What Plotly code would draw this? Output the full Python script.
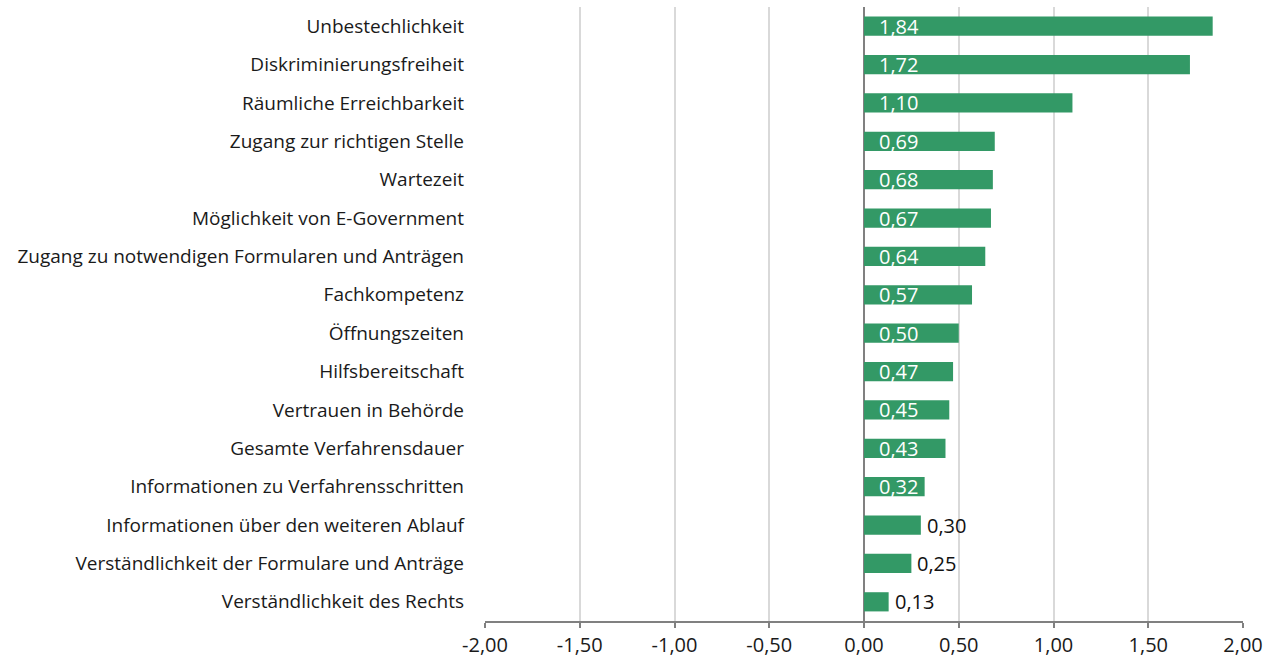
import plotly.graph_objects as go

# Categories, listed top to bottom
categories = [
    "Unbestechlichkeit",
    "Diskriminierungsfreiheit",
    "Räumliche Erreichbarkeit",
    "Zugang zur richtigen Stelle",
    "Wartezeit",
    "Möglichkeit von E-Government",
    "Zugang zu notwendigen Formularen und Anträgen",
    "Fachkompetenz",
    "Öffnungszeiten",
    "Hilfsbereitschaft",
    "Vertrauen in Behörde",
    "Gesamte Verfahrensdauer",
    "Informationen zu Verfahrensschritten",
    "Informationen über den weiteren Ablauf",
    "Verständlichkeit der Formulare und Anträge",
    "Verständlichkeit des Rechts",
]
values = [1.84, 1.72, 1.10, 0.69, 0.68, 0.67, 0.64, 0.57, 0.50, 0.47, 0.45, 0.43, 0.32, 0.30, 0.25, 0.13]

x_tickvals = [-2.0, -1.5, -1.0, -0.5, 0.0, 0.5, 1.0, 1.5, 2.0]
x_ticktext = ["-2,00", "-1,50", "-1,00", "-0,50", "0,00", "0,50", "1,00", "1,50", "2,00"]

GREEN = "#339966"
FONT = "Open Sans"
INSIDE_MIN = 0.31  # shorter bars get their label placed after the bar


def fmt(v):
    return f"{v:.2f}".replace(".", ",")


fig = go.Figure(
    go.Bar(
        x=values,
        y=categories,
        orientation="h",
        marker=dict(color=GREEN, line=dict(width=0)),
        width=0.5,
        hoverinfo="skip",
    )
)

annotations = []
for cat, v in zip(categories, values):
    inside = v >= INSIDE_MIN
    annotations.append(
        dict(
            x=0 if inside else v,
            y=cat,
            xref="x",
            yref="y",
            text=fmt(v),
            showarrow=False,
            xanchor="left",
            yanchor="middle",
            xshift=13 if inside else 4,
            yshift=0,
            font=dict(family=FONT, size=20, color="white" if inside else "#111111"),
        )
    )

fig.update_layout(
    width=1273,
    height=659,
    margin=dict(l=485, r=30, t=7, b=38),
    paper_bgcolor="white",
    plot_bgcolor="white",
    showlegend=False,
    font=dict(family=FONT, size=19, color="#1a1a1a"),
    annotations=annotations,
    bargap=0.5,
)

fig.update_xaxes(
    range=[-2, 2],
    automargin=False,
    tickvals=x_tickvals,
    ticktext=x_ticktext,
    showgrid=True,
    gridcolor="#d9d9d9",
    gridwidth=1.5,
    zeroline=True,
    zerolinecolor="#808080",
    zerolinewidth=2,
    showline=True,
    linecolor="#808080",
    linewidth=2,
    ticks="outside",
    ticklen=5,
    tickcolor="#808080",
    tickwidth=2,
    tickfont=dict(family=FONT, size=20, color="#1a1a1a"),
)

fig.update_yaxes(
    autorange="reversed",
    automargin=False,
    showgrid=False,
    zeroline=False,
    showline=False,
    ticks="",
    ticklabelstandoff=20,
    tickfont=dict(family=FONT, size=19, color="#1a1a1a"),
)

fig.write_html("out.html")
